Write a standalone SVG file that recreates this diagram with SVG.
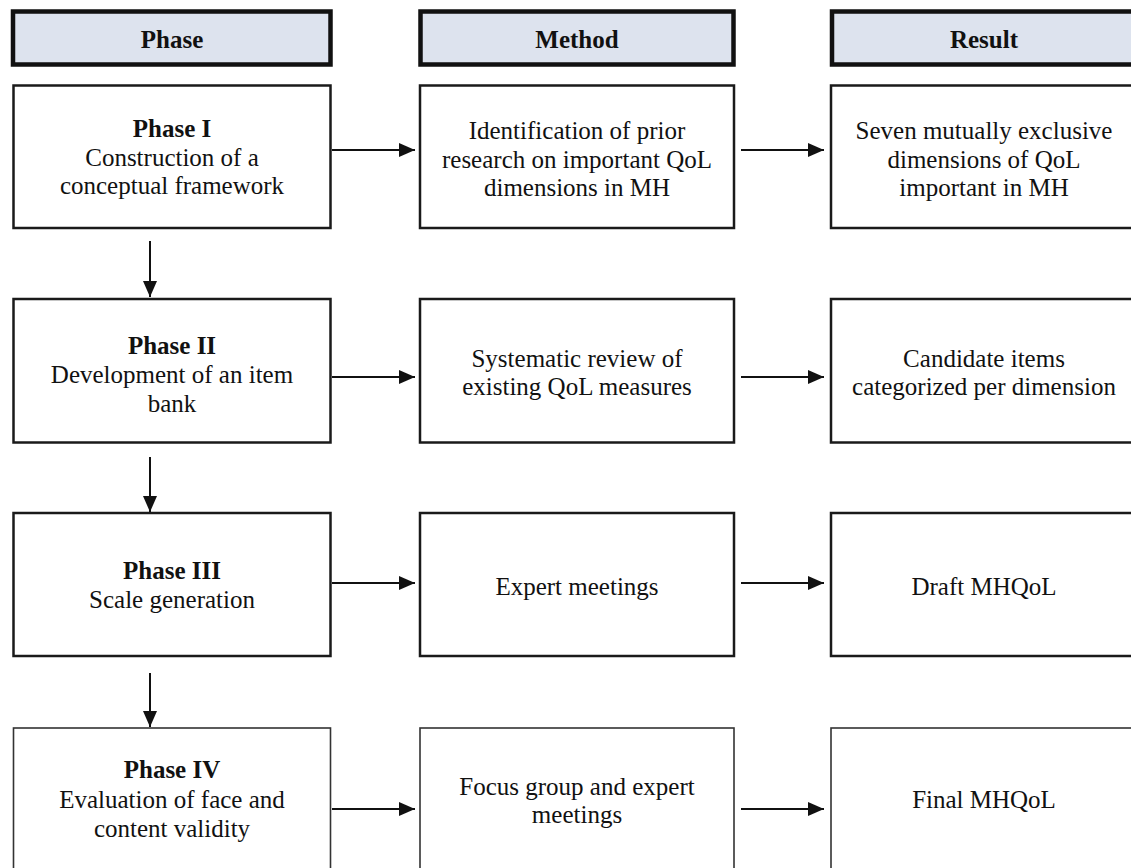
<svg xmlns="http://www.w3.org/2000/svg" width="1131" height="868" viewBox="0 0 1131 868">
<style>
.hdr{fill:#dde3ee;stroke:#111;stroke-width:4.5}
.box{fill:#fff;stroke:#1a1a1a;stroke-width:2.5}
.box4{fill:#fff;stroke:#333;stroke-width:1.6}
text{font-family:"Liberation Serif","Times New Roman",serif;font-size:25px;fill:#111;text-anchor:middle}
.b{font-weight:bold}
.arr{stroke:#111;stroke-width:2;fill:none;marker-end:url(#ah)}
</style>
<defs>
<marker id="ah" markerUnits="userSpaceOnUse" markerWidth="17" markerHeight="15" refX="16" refY="7" orient="auto">
<path d="M0,0 L16,7 L0,14 Z" fill="#111"/>
</marker>
</defs>
<rect width="1131" height="868" fill="#fff"/>
<g id="header-phase"><rect class="hdr" x="13" y="11.5" width="317.5" height="53"/><text class="b" x="172" y="48">Phase</text></g>
<g id="header-method"><rect class="hdr" x="420.5" y="11.5" width="313" height="53"/><text class="b" x="577" y="48">Method</text></g>
<g id="header-result"><rect class="hdr" x="832" y="11.5" width="310" height="53"/><text class="b" x="984" y="48">Result</text></g>

<g id="phase1"><rect class="box" x="13.5" y="85.5" width="317" height="142.5"/>
<text class="b" x="172" y="137">Phase I</text><text x="172" y="165.5">Construction of a</text><text x="172" y="194">conceptual framework</text></g>
<g id="method1"><rect class="box" x="420" y="85.5" width="314" height="142.5"/>
<text x="577" y="139">Identification of prior</text><text x="577" y="167.5">research on important QoL</text><text x="577" y="196">dimensions in MH</text></g>
<g id="result1"><rect class="box" x="831" y="85.5" width="306" height="142.5"/>
<text x="984" y="139">Seven mutually exclusive</text><text x="984" y="167.5">dimensions of QoL</text><text x="984" y="196">important in MH</text></g>

<g id="phase2"><rect class="box" x="13.5" y="299" width="317" height="143.5"/>
<text class="b" x="172" y="354">Phase II</text><text x="172" y="383">Development of an item</text><text x="172" y="412">bank</text></g>
<g id="method2"><rect class="box" x="420" y="299" width="314" height="143.5"/>
<text x="577" y="367">Systematic review of</text><text x="577" y="395">existing QoL measures</text></g>
<g id="result2"><rect class="box" x="831" y="299" width="306" height="143.5"/>
<text x="984" y="367">Candidate items</text><text x="984" y="395">categorized per dimension</text></g>

<g id="phase3"><rect class="box" x="13.5" y="513" width="317" height="143"/>
<text class="b" x="172" y="579">Phase III</text><text x="172" y="608">Scale generation</text></g>
<g id="method3"><rect class="box" x="420" y="513" width="314" height="143"/>
<text x="577" y="595">Expert meetings</text></g>
<g id="result3"><rect class="box" x="831" y="513" width="306" height="143"/>
<text x="984" y="595">Draft MHQoL</text></g>

<g id="phase4"><rect class="box4" x="13.5" y="728" width="317" height="150"/>
<text class="b" x="172" y="778">Phase IV</text><text x="172" y="808">Evaluation of face and</text><text x="172" y="837">content validity</text></g>
<g id="method4"><rect class="box4" x="420" y="728" width="314" height="150"/>
<text x="577" y="795">Focus group and expert</text><text x="577" y="823">meetings</text></g>
<g id="result4"><rect class="box4" x="831" y="728" width="306" height="150"/>
<text x="984" y="808">Final MHQoL</text></g>

<g id="connectors">
<line class="arr" x1="332" y1="150" x2="415" y2="150"/>
<line class="arr" x1="741" y1="150" x2="824" y2="150"/>
<line class="arr" x1="332" y1="377" x2="415" y2="377"/>
<line class="arr" x1="741" y1="377" x2="824" y2="377"/>
<line class="arr" x1="332" y1="583" x2="415" y2="583"/>
<line class="arr" x1="741" y1="583" x2="824" y2="583"/>
<line class="arr" x1="332" y1="809" x2="415" y2="809"/>
<line class="arr" x1="741" y1="809" x2="824" y2="809"/>
<line class="arr" x1="150" y1="241" x2="150" y2="297"/>
<line class="arr" x1="150" y1="457" x2="150" y2="512"/>
<line class="arr" x1="150" y1="673" x2="150" y2="727"/>
</g>
</svg>
